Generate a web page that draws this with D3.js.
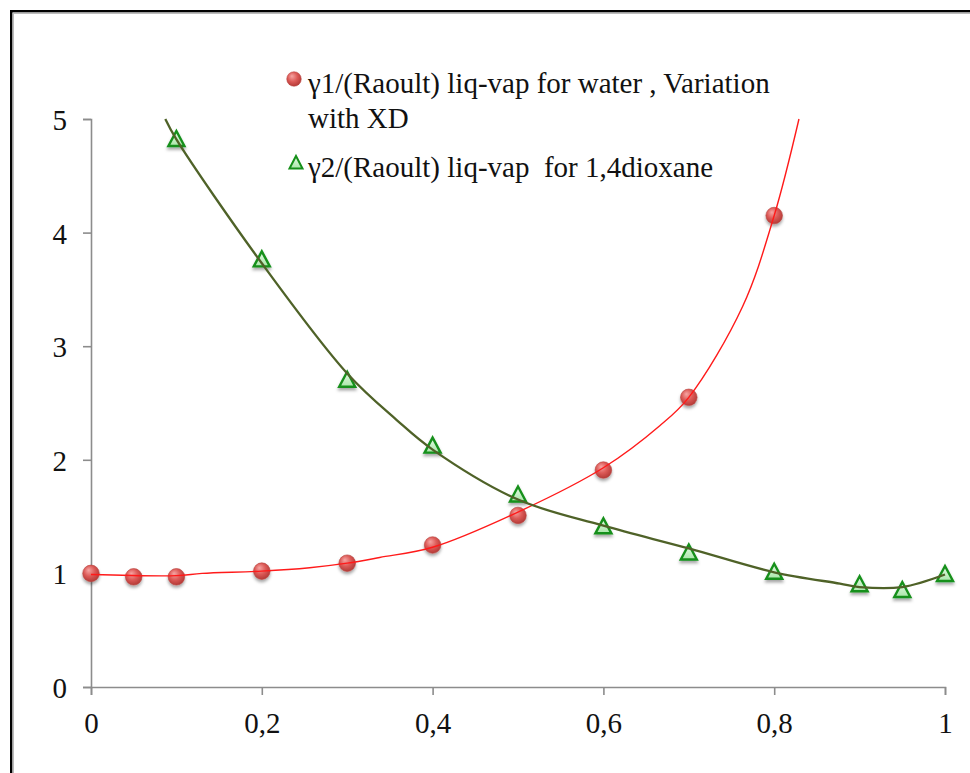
<!DOCTYPE html>
<html>
<head>
<meta charset="utf-8">
<script src="https://cdn.jsdelivr.net/npm/d3@7/dist/d3.min.js"></script>
<style>
  html, body { margin: 0; padding: 0; background: #fff; }
  svg { display: block; }
</style>
</head>
<body>
<svg id="chart" width="970" height="773"></svg>
<script>
// ---- data ----
const xD = [0, 0.05, 0.1, 0.2, 0.3, 0.4, 0.5, 0.6, 0.7, 0.8];
const gamma1 = [1.00, 0.97, 0.97, 1.02, 1.09, 1.25, 1.51, 1.91, 2.55, 4.15];

const xD2 = [0.1, 0.2, 0.3, 0.4, 0.5, 0.6, 0.7, 0.8, 0.9, 0.95, 1.0];
const gamma2 = [4.82, 3.76, 2.70, 2.12, 1.69, 1.41, 1.18, 1.01, 0.90, 0.85, 0.99];

// trend lines
const trend1X = [0, 0.1, 0.13, 0.2, 0.256, 0.3, 0.338, 0.4, 0.5, 0.6, 0.666, 0.7, 0.763, 0.8, 0.829];
const trend1Y = [0.99, 0.98, 1.00, 1.02, 1.05, 1.09, 1.14, 1.23, 1.54, 1.93, 2.30, 2.55, 3.35, 4.15, 5.0];

const trend2X = [0.087, 0.1, 0.2, 0.3, 0.358, 0.4, 0.5, 0.6, 0.7, 0.8, 0.877, 0.9, 0.95, 1.0];
const trend2Y = [5.0, 4.82, 3.73, 2.76, 2.35, 2.09, 1.65, 1.42, 1.22, 1.01, 0.91, 0.88, 0.88, 0.99];

const xTicks = [0, 0.2, 0.4, 0.6, 0.8, 1];
const xTickLabels = ["0", "0,2", "0,4", "0,6", "0,8", "1"];
const yTicks = [0, 1, 2, 3, 4, 5];
const yTickLabels = ["0", "1", "2", "3", "4", "5"];

const legendLabels = [
  ["γ1/(Raoult) liq-vap for water , Variation", "with XD"],
  ["γ2/(Raoult) liq-vap  for 1,4dioxane"]
];

// ---- layout ----
const FONT = '"Liberation Serif"';
const svg = d3.select("#chart");
const plotLeft = 91, plotRight = 945, plotTop = 119, plotBottom = 687;
const x = d3.scaleLinear().domain([0, 1]).range([plotLeft, plotRight]);
const y = d3.scaleLinear().domain([0, 5]).range([plotBottom, plotTop]);

const defs = svg.append("defs");
const rg = defs.append("radialGradient").attr("id", "ball").attr("cx", "45%").attr("cy", "40%").attr("r", "60%").attr("fx", "35%").attr("fy", "30%");
rg.append("stop").attr("offset", "0%").attr("stop-color", "#f6a5a3");
rg.append("stop").attr("offset", "55%").attr("stop-color", "#dc5a57");
rg.append("stop").attr("offset", "100%").attr("stop-color", "#b43a37");
const tg = defs.append("linearGradient").attr("id", "tri").attr("x1", 0).attr("y1", 0).attr("x2", 0).attr("y2", 1);
tg.append("stop").attr("offset", "0%").attr("stop-color", "#e6fae6");
tg.append("stop").attr("offset", "100%").attr("stop-color", "#a9e6a9");
const sh = defs.append("filter").attr("id", "shadow").attr("x", "-50%").attr("y", "-50%").attr("width", "200%").attr("height", "200%");
sh.append("feDropShadow").attr("dx", 0).attr("dy", 2.5).attr("stdDeviation", 1.6).attr("flood-color", "#000").attr("flood-opacity", 0.35);

// outer frame (cropped on right/bottom)
svg.append("rect").attr("x", 11.25).attr("y", 11.25).attr("width", 1000).attr("height", 1000)
  .attr("fill", "none").attr("stroke", "#000").attr("stroke-width", 2.5);
svg.append("rect").attr("x", 13.25).attr("y", 13.25).attr("width", 1000).attr("height", 1000)
  .attr("fill", "none").attr("stroke", "#bbb").attr("stroke-width", 1.5);

// axes
const axisColor = "#8c8c8c";
const yAxis = d3.axisLeft(y).tickValues(yTicks).tickFormat((d, i) => yTickLabels[i]).tickSize(8).tickPadding(16);
const gy = svg.append("g").attr("transform", `translate(${plotLeft},0)`).call(yAxis);
const xAxis = d3.axisBottom(x).tickValues(xTicks).tickFormat((d, i) => xTickLabels[i]).tickSize(8).tickPadding(28);
const gx = svg.append("g").attr("transform", `translate(0,${plotBottom})`).call(xAxis);
[gx, gy].forEach(g => {
  g.attr("font-family", null).attr("font-size", null);
  g.select(".domain").attr("stroke", axisColor).attr("stroke-width", 1.6);
  g.selectAll(".tick line").attr("stroke", axisColor).attr("stroke-width", 1.6);
  g.selectAll(".tick text").style("font-family", FONT).style("font-size", "29px").attr("fill", "#111");
});
gy.selectAll(".tick text").attr("dy", "0.36em");
gx.selectAll(".tick text").attr("dy", "0.35em");

// markers
const triPath = "M0,-8.5 L8,6.5 L-8,6.5 Z";
svg.append("g").selectAll("circle").data(xD).join("circle")
  .attr("cx", d => x(d)).attr("cy", (d, i) => y(gamma1[i])).attr("r", 8.3)
  .attr("fill", "url(#ball)").attr("stroke", "#b84440").attr("stroke-width", 0.6)
  .attr("filter", "url(#shadow)");
svg.append("g").selectAll("path").data(xD2).join("path")
  .attr("d", triPath)
  .attr("transform", (d, i) => `translate(${x(d)},${y(gamma2[i])})`)
  .attr("fill", "url(#tri)").attr("stroke", "#16901a").attr("stroke-width", 2.4).attr("stroke-linejoin", "miter")
  .attr("filter", "url(#shadow)");

// trend lines
const line = d3.line().curve(d3.curveCatmullRom.alpha(0.5));
svg.append("path")
  .attr("d", line(trend1X.map((d, i) => [x(d), y(trend1Y[i])])))
  .attr("fill", "none").attr("stroke", "#ff1a1a").attr("stroke-width", 1.4);
svg.append("path")
  .attr("d", line(trend2X.map((d, i) => [x(d), y(trend2Y[i])])))
  .attr("fill", "none").attr("stroke", "#4f6228").attr("stroke-width", 2.3);

// legend
const lg = svg.append("g");
lg.append("circle").attr("cx", 294).attr("cy", 79).attr("r", 7.3).attr("fill", "url(#ball)").attr("stroke", "#b84440").attr("stroke-width", 0.5);
lg.append("path").attr("d", "M0,-7 L6.5,5.5 L-6.5,5.5 Z").attr("transform", "translate(296,163)")
  .attr("fill", "url(#tri)").attr("stroke", "#16901a").attr("stroke-width", 2);
const l1 = lg.append("text").attr("x", 308).attr("y", 93)
  .style("font-family", FONT).style("font-size", "29px").attr("fill", "#111");
l1.append("tspan").attr("x", 308).text(legendLabels[0][0]);
l1.append("tspan").attr("x", 308).attr("dy", 35).text(legendLabels[0][1]);
lg.append("text").attr("x", 308).attr("y", 177)
  .style("font-family", FONT).style("font-size", "29px").style("white-space", "pre").attr("fill", "#111")
  .text(legendLabels[1][0]);
</script>
</body>
</html>
